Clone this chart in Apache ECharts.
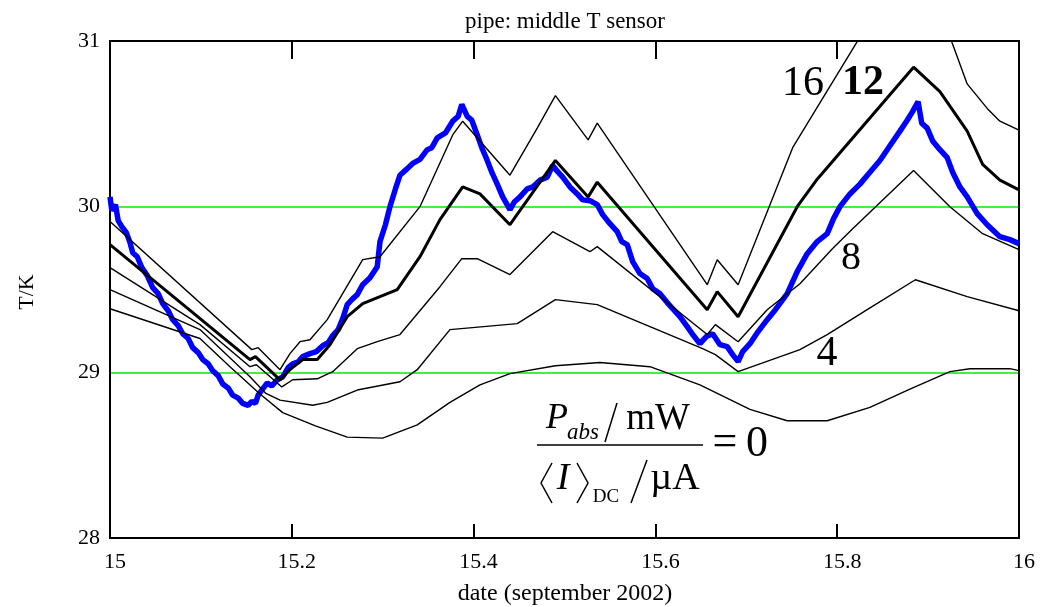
<!DOCTYPE html>
<html>
<head>
<meta charset="utf-8">
<script src="https://cdn.jsdelivr.net/npm/echarts/dist/echarts.min.js"></script>
<style>
html, body { margin: 0; padding: 0; background: #fff; }
#chart { width: 1048px; height: 607px; }
</style>
</head>
<body>
<div id="chart"></div>
<script>
// date (day of september 2002), T/K
let medida = [
  [15.000, 30.059], [15.002, 29.976], [15.006, 30.012], [15.009, 29.916], [15.013, 29.879],
  [15.018, 29.843], [15.022, 29.783], [15.025, 29.722], [15.030, 29.698], [15.035, 29.632],
  [15.041, 29.584], [15.047, 29.511], [15.053, 29.475], [15.058, 29.415], [15.064, 29.372],
  [15.069, 29.318], [15.075, 29.282], [15.080, 29.233], [15.086, 29.204], [15.091, 29.149],
  [15.097, 29.119], [15.102, 29.077], [15.108, 29.052], [15.113, 29.010], [15.119, 28.980],
  [15.124, 28.930], [15.130, 28.906], [15.135, 28.862], [15.141, 28.844], [15.146, 28.813],
  [15.152, 28.801], [15.156, 28.825], [15.160, 28.813], [15.163, 28.862], [15.167, 28.893],
  [15.173, 28.936], [15.178, 28.918], [15.184, 28.955], [15.190, 28.973], [15.196, 29.028],
  [15.201, 29.052], [15.207, 29.064], [15.212, 29.095], [15.220, 29.113], [15.227, 29.125],
  [15.234, 29.161], [15.240, 29.179], [15.245, 29.222], [15.251, 29.258], [15.256, 29.324],
  [15.261, 29.409], [15.266, 29.439], [15.272, 29.469], [15.278, 29.529], [15.286, 29.571],
  [15.294, 29.638], [15.297, 29.789], [15.303, 29.891], [15.308, 30.000], [15.314, 30.107],
  [15.319, 30.190], [15.326, 30.225], [15.333, 30.261], [15.341, 30.285], [15.349, 30.344],
  [15.354, 30.356], [15.360, 30.415], [15.369, 30.445], [15.377, 30.516], [15.383, 30.545],
  [15.387, 30.617], [15.393, 30.545], [15.398, 30.522], [15.404, 30.433], [15.409, 30.356],
  [15.415, 30.279], [15.420, 30.208], [15.426, 30.136], [15.432, 30.059], [15.440, 29.982],
  [15.445, 30.030], [15.451, 30.059], [15.459, 30.107], [15.465, 30.119], [15.473, 30.160],
  [15.481, 30.178], [15.487, 30.249], [15.493, 30.208], [15.498, 30.178], [15.506, 30.119],
  [15.514, 30.077], [15.520, 30.041], [15.528, 30.036], [15.536, 30.012], [15.542, 29.952],
  [15.550, 29.897], [15.558, 29.849], [15.563, 29.789], [15.569, 29.771], [15.575, 29.668],
  [15.583, 29.596], [15.591, 29.566], [15.597, 29.505], [15.605, 29.475], [15.613, 29.421],
  [15.619, 29.384], [15.627, 29.336], [15.635, 29.276], [15.641, 29.228], [15.649, 29.173],
  [15.656, 29.216], [15.663, 29.233], [15.671, 29.167], [15.679, 29.155], [15.685, 29.107],
  [15.691, 29.065], [15.696, 29.125], [15.704, 29.173], [15.713, 29.246], [15.723, 29.318],
  [15.732, 29.378], [15.745, 29.475], [15.756, 29.608], [15.767, 29.716], [15.778, 29.789],
  [15.789, 29.837], [15.796, 29.928], [15.803, 30.000], [15.814, 30.077], [15.825, 30.136],
  [15.836, 30.208], [15.847, 30.279], [15.858, 30.368], [15.869, 30.456], [15.877, 30.522],
  [15.883, 30.575], [15.889, 30.634], [15.893, 30.504], [15.899, 30.474], [15.905, 30.397],
  [15.913, 30.344], [15.921, 30.296], [15.927, 30.208], [15.935, 30.119], [15.943, 30.059],
  [15.954, 29.958], [15.965, 29.891], [15.979, 29.819], [15.990, 29.801], [16.000, 29.777]
];

// modelo, P_abs/mW / <I>_DC/uA = 0
let p0 = [
  [15.000, 29.384], [15.099, 29.204], [15.132, 29.034], [15.165, 28.869], [15.190, 28.757],
  [15.226, 28.677], [15.261, 28.609], [15.300, 28.603], [15.338, 28.683], [15.374, 28.819],
  [15.407, 28.924], [15.440, 28.992], [15.490, 29.040], [15.539, 29.059], [15.594, 29.034],
  [15.649, 28.924], [15.704, 28.776], [15.745, 28.708], [15.789, 28.708], [15.836, 28.788],
  [15.880, 28.899], [15.924, 29.004], [15.946, 29.022], [15.990, 29.022], [16.000, 29.010]
];

// = 4
let p4 = [
  [15.000, 29.499], [15.099, 29.258], [15.154, 28.973], [15.171, 28.875], [15.187, 28.832],
  [15.223, 28.801], [15.239, 28.819], [15.272, 28.893], [15.319, 28.943], [15.338, 29.016],
  [15.374, 29.258], [15.448, 29.294], [15.490, 29.439], [15.536, 29.409], [15.594, 29.276],
  [15.652, 29.143], [15.666, 29.107], [15.691, 29.004], [15.759, 29.137], [15.789, 29.228],
  [15.833, 29.378], [15.886, 29.559], [15.943, 29.457], [16.000, 29.372]
];

// = 8
let p8 = [
  [15.000, 29.632], [15.099, 29.288], [15.154, 29.034], [15.161, 29.046], [15.189, 28.912],
  [15.201, 28.955], [15.228, 28.961], [15.245, 29.004], [15.272, 29.143], [15.294, 29.185],
  [15.319, 29.228], [15.363, 29.517], [15.387, 29.686], [15.404, 29.686], [15.440, 29.590],
  [15.487, 29.849], [15.528, 29.728], [15.536, 29.759], [15.657, 29.228], [15.666, 29.288],
  [15.691, 29.185], [15.723, 29.378], [15.759, 29.535], [15.795, 29.747], [15.817, 29.867],
  [15.884, 30.219], [15.924, 30.000], [15.960, 29.837], [16.000, 29.741]
];

// = 12 (en negrita)
let p12 = [
  [15.000, 29.771], [15.154, 29.077], [15.160, 29.095], [15.187, 28.955], [15.198, 29.016],
  [15.212, 29.077], [15.228, 29.077], [15.242, 29.167], [15.261, 29.336], [15.278, 29.415],
  [15.316, 29.499], [15.341, 29.698], [15.363, 29.922], [15.388, 30.119], [15.407, 30.077],
  [15.440, 29.891], [15.490, 30.279], [15.526, 30.059], [15.536, 30.148], [15.657, 29.378],
  [15.668, 29.487], [15.691, 29.336], [15.756, 30.000], [15.778, 30.166], [15.884, 30.842],
  [15.913, 30.694], [15.943, 30.456], [15.960, 30.255], [15.979, 30.160], [16.000, 30.101]
];

// = 16
let p16 = [
  [15.000, 29.910], [15.156, 29.137], [15.163, 29.149], [15.187, 29.016], [15.198, 29.113],
  [15.209, 29.185], [15.220, 29.197], [15.239, 29.318], [15.278, 29.680], [15.297, 29.698],
  [15.341, 30.000], [15.377, 30.433], [15.388, 30.516], [15.440, 30.190], [15.470, 30.474],
  [15.490, 30.670], [15.514, 30.492], [15.526, 30.403], [15.536, 30.504], [15.657, 29.529],
  [15.668, 29.680], [15.691, 29.529], [15.751, 30.356], [15.822, 30.996], [15.886, 31.600],
  [15.926, 30.996], [15.943, 30.741], [15.965, 30.593], [15.979, 30.516], [16.000, 30.462]
];

const serif = "'Liberation Serif', 'Times New Roman', serif";

let linea = (datos, ancho) => ({
  type: 'line',
  data: datos,
  showSymbol: false,
  silent: true,
  lineStyle: { color: '#000', width: ancho },
  z: 3
});

let texto = (x, y, txt, font, extra) => Object.assign({
  type: 'text', x: x, y: y, z: 100,
  style: { text: txt, font: font, fill: '#000', align: 'center', verticalAlign: 'middle' }
}, extra || {});

let raya = (pts, w) => ({
  type: 'polyline', z: 100,
  shape: { points: pts },
  style: { stroke: '#000', lineWidth: w || 1.5, fill: null }
});

// Inicializa el gráfico
let chart = echarts.init(document.getElementById('chart'));

let option = {
  animation: false,
  backgroundColor: '#fff',
  grid: { left: 110, right: 29, top: 41, bottom: 69 },
  xAxis: [{
    type: 'value', min: 15, max: 16, interval: 0.2,
    axisLine: { show: true, onZero: false, lineStyle: { color: '#000', width: 2 } },
    axisTick: { show: true, inside: true, length: 14, lineStyle: { color: '#000', width: 2 } },
    axisLabel: { color: '#000', fontSize: 22, fontFamily: serif, margin: 13, padding: [0, 0, 0, 10],
                 showMinLabel: true, showMaxLabel: true },
    splitLine: { show: false }
  }, {
    type: 'value', position: 'top', min: 15, max: 16, interval: 0.2,
    axisLine: { show: true, onZero: false, lineStyle: { color: '#000', width: 2 } },
    axisTick: { show: true, inside: true, length: 18, lineStyle: { color: '#000', width: 2 } },
    axisLabel: { show: false },
    splitLine: { show: false }
  }],
  yAxis: [{
    type: 'value', min: 28, max: 31, interval: 1,
    axisLine: { show: true, onZero: false, lineStyle: { color: '#000', width: 2 } },
    axisTick: { show: false },
    axisLabel: { color: '#000', fontSize: 22, fontFamily: serif, margin: 10, padding: [12, 0, 0, 0],
                 showMinLabel: true, showMaxLabel: true },
    splitLine: { show: true, lineStyle: { color: '#00ee00', width: 1.5 } }
  }, {
    type: 'value', position: 'right', min: 28, max: 31, interval: 1,
    axisLine: { show: true, onZero: false, lineStyle: { color: '#000', width: 2 } },
    axisTick: { show: false },
    axisLabel: { show: false },
    splitLine: { show: false }
  }],
  series: [
    {
      type: 'line', data: medida, showSymbol: false, silent: true,
      lineStyle: { color: '#0000ff', width: 5.5 }, z: 2
    },
    linea(p0, 1.4),
    linea(p4, 1.4),
    linea(p8, 1.4),
    linea(p12, 3),
    linea(p16, 1.4)
  ],
  graphic: [
    texto(565, 22, 'pipe: middle T sensor', '23px ' + serif),
    texto(27, 292, 'T/K', '22px ' + serif, { rotation: Math.PI / 2 }),
    texto(565, 594, 'date (september 2002)', '24px ' + serif),
    // etiquetas de las curvas
    texto(803, 84, '16', '42px ' + serif),
    texto(863, 83, '12', 'bold 42px ' + serif),
    texto(851, 258, '8', '40px ' + serif),
    texto(827, 354, '4', '42px ' + serif),
    // formula
    texto(557, 419, 'P', 'italic 36px ' + serif),
    texto(583, 433, 'abs', 'italic 23px ' + serif),
    raya([[605, 442], [617, 403]]),
    texto(658, 419, 'mW', '37px ' + serif),
    raya([[537, 445], [703, 445]]),
    raya([[552, 463], [541, 483], [552, 503]]),
    texto(563, 479, 'I', 'italic 38px ' + serif),
    raya([[577, 463], [588, 483], [577, 503]]),
    texto(606, 497, 'DC', '19px ' + serif),
    raya([[631, 503], [647, 460]]),
    texto(675, 479, '\u00b5A', '38px ' + serif),
    texto(725, 443, '=', '44px ' + serif),
    texto(757, 444, '0', '44px ' + serif)
  ]
};

option && chart.setOption(option);
window.addEventListener('resize', chart.resize);
</script>
</body>
</html>
